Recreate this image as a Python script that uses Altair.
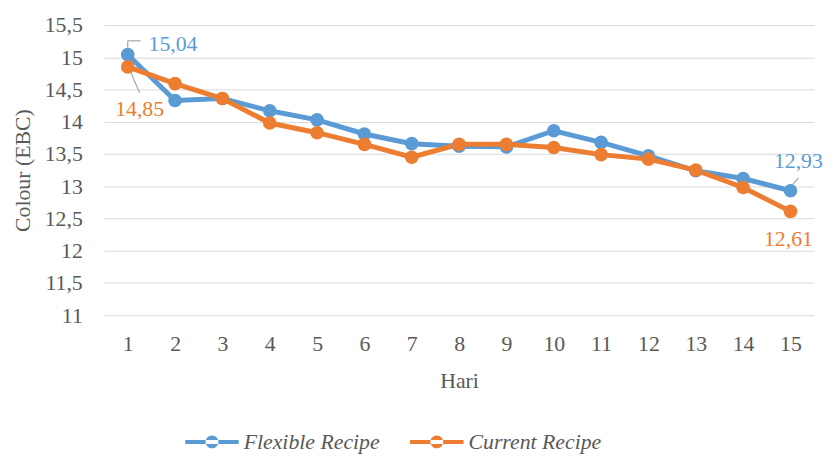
import altair as alt
import pandas as pd

hari = list(range(1, 16))
flexible = [15.04, 14.33, 14.36, 14.17, 14.03, 13.81, 13.66, 13.62, 13.61, 13.86, 13.68, 13.47, 13.24, 13.12, 12.93]
current = [14.85, 14.59, 14.36, 13.98, 13.83, 13.65, 13.45, 13.65, 13.65, 13.60, 13.49, 13.42, 13.25, 12.98, 12.61]
series = ["Flexible Recipe", "Current Recipe"]
colors = ["#5B9BD5", "#ED7D31"]
y_ticks = [11, 11.5, 12, 12.5, 13, 13.5, 14, 14.5, 15, 15.5]

rows = []
for h, f, c in zip(hari, flexible, current):
    rows.append({"Hari": h, "Resep": series[0], "Colour": f})
    rows.append({"Hari": h, "Resep": series[1], "Colour": c})
df = pd.DataFrame(rows)
df["label"] = df["Colour"].map(lambda v: f"{v:.2f}".replace(".", ","))

FONT = "Liberation Serif, DejaVu Serif"
GREY = "#595959"

legend_path = ("M-0.24,0 A0.24,0.24 0 1,0 0.24,0 A0.24,0.24 0 1,0 -0.24,0 Z "
               "M-1,-0.075 L1,-0.075 L1,0.075 L-1,0.075 Z")

x_enc = alt.X("Hari:O", scale=alt.Scale(type="point", padding=0.5),
              axis=alt.Axis(title="Hari", labelAngle=0, domain=False, ticks=False, grid=False,
                            labelPadding=19, titlePadding=16))
y_enc = alt.Y("Colour:Q", scale=alt.Scale(domain=[11, 15.5], nice=False, zero=False),
              axis=alt.Axis(title="Colour (EBC)", values=y_ticks, domain=False, ticks=False,
                            labelPadding=22, titlePadding=10, gridColor="#d9d9d9",
                            labelOverlap=False,
                            labelExpr="replace(format(datum.value, '.1~f'), '.', ',')"))
color_enc = alt.Color("Resep:N", scale=alt.Scale(domain=series, range=colors),
                      legend=alt.Legend(title=None, orient="none", direction="horizontal",
                                        legendX=82, legendY=394, symbolType=legend_path,
                                        symbolSize=2916, symbolStrokeWidth=0,
                                        labelFont=FONT, labelFontSize=22, labelFontStyle="italic",
                                        labelColor=GREY, labelOffset=5, columnPadding=30))

base = alt.Chart(df)
line = base.mark_line(strokeWidth=5).encode(x=x_enc, y=y_enc, color=color_enc,
                                              order=alt.Order("Hari:O"))
points = base.mark_point(filled=True, size=190, opacity=1).encode(x=x_enc, y=y_enc, color=color_enc)


def sel(name, day):
    return base.transform_filter(
        (alt.datum.Resep == name) & (alt.datum.Hari == day))


def label(name, day, color, dx, dy, align):
    return sel(name, day).mark_text(font=FONT, fontSize=22, color=color, dx=dx, dy=dy,
                                    align=align, baseline="middle").encode(
        x=x_enc, y=y_enc, text="label:N")


def leader(name, day, xo, yo, x2o, y2o):
    return sel(name, day).mark_rule(color="#a6a6a6", strokeWidth=1.2, xOffset=xo, yOffset=yo,
                                    x2Offset=x2o, y2Offset=y2o).encode(
        x=x_enc, y=y_enc, x2="Hari:O", y2="Colour:Q")


layers = [
    leader(series[0], 1, 0, -7, 0, -14),
    leader(series[0], 1, 0, -14, 13, -14),
    leader(series[1], 1, 2, 3, 12, 26),
    leader(series[0], 15, 1, -5, 8, -13),
    line, points,
    label(series[0], 1, colors[0], 21, -11, "left"),
    label(series[1], 1, colors[1], 12, 43, "center"),
    label(series[0], 15, colors[0], 8, -30, "center"),
    label(series[1], 15, colors[1], -2, 28, "center"),
]

chart = alt.layer(*layers).properties(
    width=717, height=293,
    background="white",
    autosize=alt.AutoSizeParams(type="none"),
    padding={"left": 97, "top": 15, "right": 13, "bottom": 140},
).configure_view(stroke=None).configure_axis(
    labelFont=FONT, labelFontSize=22, labelColor=GREY,
    titleFont=FONT, titleFontSize=22, titleColor=GREY, titleFontWeight="normal",
)

chart.save("out.html", embed_options={"renderer": "svg", "actions": False})
